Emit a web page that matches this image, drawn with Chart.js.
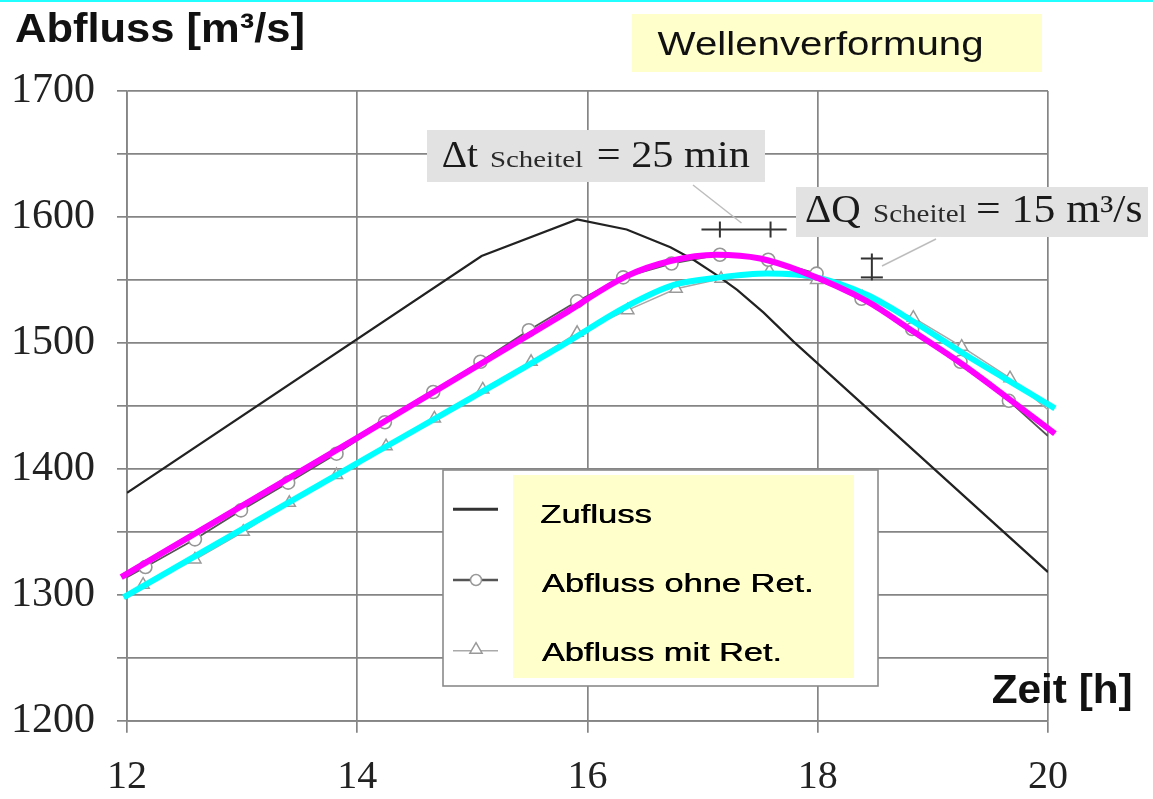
<!DOCTYPE html>
<html><head><meta charset="utf-8">
<script src="https://cdn.jsdelivr.net/npm/chart.js@4"></script>
<style>html,body{margin:0;padding:0;background:#fff;} #wrap{width:1153px;height:799px;position:relative;}</style>
</head><body><div id="wrap"><canvas id="c" width="1153" height="799"></canvas></div>
<script>
// ---- data (time in h, discharge in m³/s) ----
const zuflussT = [12.0, 15.08, 15.91, 16.34, 16.72, 16.92, 17.12, 17.30, 17.53, 17.79, 20.0];
const zuflussQ = [1381, 1569, 1598, 1590, 1576, 1566, 1554, 1542, 1524, 1501, 1318];

const ohneT = [12.0, 12.16, 12.59, 12.99, 13.40, 13.82, 14.24, 14.66, 15.07, 15.49, 15.91, 16.31, 16.73, 17.15, 17.57, 17.99, 18.38, 18.82, 19.24, 19.66, 20.0];
const ohneQ = [1314, 1322, 1344, 1367, 1389, 1412, 1437, 1461, 1485, 1510, 1533, 1552, 1563, 1570, 1566, 1555, 1535, 1511, 1485, 1454, 1426];

const mitT = [12.0, 12.14, 12.59, 13.01, 13.41, 13.82, 14.25, 14.67, 15.09, 15.51, 15.91, 16.35, 16.77, 17.16, 17.58, 17.99, 18.39, 18.83, 19.25, 19.67, 20.0];
const mitQ = [1301, 1308, 1328, 1350, 1373, 1395, 1418, 1440, 1463, 1485, 1508, 1526, 1543, 1551, 1557, 1550, 1536, 1520, 1497, 1472, 1447];

// hand-drawn highlight curves
const magentaT = [11.95, 13.97, 15.76, 16.34, 16.72, 17.12, 17.50, 17.85, 18.43, 18.83, 19.24, 19.64, 20.06];
const magentaQ = [1314, 1423, 1521, 1553, 1565, 1570, 1567, 1557, 1533, 1509, 1484, 1457, 1428];
const cyanT = [11.97, 13.97, 15.76, 16.34, 16.75, 17.15, 17.56, 17.99, 18.43, 18.83, 19.24, 19.64, 20.06];
const cyanQ = [1298, 1403, 1497, 1529, 1546, 1552, 1555, 1552, 1538, 1517, 1493, 1471, 1448];

// peak-shift markers
const dtMarkT = [17.15, 17.59];   // Δt ticks (peak times)
const dtBar = [16.99, 17.73, 1590]; // bar from t, to t, at Q
const dqMarkQ = [1567, 1552];     // ΔQ ticks (peak flows)
const dqBar = [18.47];            // at t

const xTicks = [12, 14, 16, 18, 20];
const yTicks = [1200, 1300, 1400, 1500, 1600, 1700];
const legendLabels = ['Zufluss', 'Abfluss ohne Ret.', 'Abfluss mit Ret.'];

const mk = (T, Q) => T.map((t, i) => ({x: t, y: Q[i]}));
const edge0 = T => T.map((t, i) => (i === 0 || i === T.length - 1) ? 0 : 1);

function txt(ctx, s, x, y, font, color, w) {
  ctx.save();
  ctx.font = font; ctx.fillStyle = color; ctx.textBaseline = 'alphabetic'; ctx.textAlign = 'left';
  const m = ctx.measureText(s).width; const k = w ? w / m : 1;
  ctx.translate(x, y); ctx.scale(k, 1); ctx.fillText(s, 0, 0);
  ctx.restore();
}
function tri(ctx, x, y, r) {
  ctx.beginPath();
  ctx.moveTo(x, y - r); ctx.lineTo(x + r * 0.87, y + r * 0.5); ctx.lineTo(x - r * 0.87, y + r * 0.5); ctx.closePath();
}

const decor = {
  id: 'decor',
  afterDraw(chart) {
    const ctx = chart.ctx, xs = chart.scales.x, ys = chart.scales.y;
    ctx.save();
    // top cyan rule
    ctx.fillStyle = '#22ffff'; ctx.fillRect(0, 0, 1153, 2);
    // title box
    ctx.fillStyle = '#ffffcc'; ctx.fillRect(632, 14, 410, 58);
    txt(ctx, 'Wellenverformung', 657.6, 55, '33px "Liberation Sans"', '#111', 326);
    txt(ctx, 'Abfluss [m³/s]', 15, 41.7, 'bold 40px "Liberation Sans"', '#111', 290);
    txt(ctx, 'Zeit [h]', 991.7, 703, 'bold 40px "Liberation Sans"', '#111', 141);

    // leader lines
    ctx.strokeStyle = '#bdbdbd'; ctx.lineWidth = 1.5;
    ctx.beginPath(); ctx.moveTo(693, 185); ctx.lineTo(741.5, 223); ctx.stroke();
    ctx.beginPath(); ctx.moveTo(936, 239); ctx.lineTo(882, 266); ctx.stroke();

    // Δt box
    ctx.fillStyle = '#e2e2e2'; ctx.fillRect(427, 130, 338, 52);
    txt(ctx, 'Δt', 441.7, 166.7, '37px "Liberation Serif"', '#1a1a1a', 36.3);
    txt(ctx, 'Scheitel', 490, 166.7, '24px "Liberation Serif"', '#2a2a2a', 93);
    txt(ctx, '= 25 min', 596.7, 166.7, '37px "Liberation Serif"', '#1a1a1a', 153.3);
    // ΔQ box
    ctx.fillStyle = '#e2e2e2'; ctx.fillRect(796, 187, 352, 50);
    txt(ctx, 'ΔQ', 805, 221.7, '39px "Liberation Serif"', '#1a1a1a', 55.7);
    txt(ctx, 'Scheitel', 873, 221.7, '25px "Liberation Serif"', '#2a2a2a', 93.6);
    txt(ctx, '= 15 m³/s', 976, 221.7, '39px "Liberation Serif"', '#1a1a1a', 166.4);

    // Δt marker
    ctx.strokeStyle = '#333'; ctx.lineWidth = 2;
    const yb = ys.getPixelForValue(dtBar[2]);
    ctx.beginPath(); ctx.moveTo(xs.getPixelForValue(dtBar[0]), yb); ctx.lineTo(xs.getPixelForValue(dtBar[1]), yb); ctx.stroke();
    dtMarkT.forEach(t => { const x = xs.getPixelForValue(t); ctx.beginPath(); ctx.moveTo(x, yb - 8); ctx.lineTo(x, yb + 8); ctx.stroke(); });
    // ΔQ marker
    const xb = xs.getPixelForValue(dqBar[0]);
    const ya = ys.getPixelForValue(dqMarkQ[0]), yc = ys.getPixelForValue(dqMarkQ[1]);
    ctx.beginPath(); ctx.moveTo(xb, ya - 5); ctx.lineTo(xb, yc + 3); ctx.stroke();
    dqMarkQ.forEach(q => { const y = ys.getPixelForValue(q); ctx.beginPath(); ctx.moveTo(xb - 11, y); ctx.lineTo(xb + 11, y); ctx.stroke(); });

    // legend
    ctx.fillStyle = '#fff'; ctx.fillRect(443, 470, 435, 216);
    ctx.strokeStyle = '#8a8a8a'; ctx.lineWidth = 1.6; ctx.strokeRect(443, 470, 435, 216);
    ctx.fillStyle = '#ffffcc'; ctx.fillRect(513, 475, 341, 203);
    const rows = [509.3, 580, 650.7], base = [523.3, 591.7, 661], widths = [111.7, 271.7, 240];
    // Zufluss sample
    ctx.strokeStyle = '#333'; ctx.lineWidth = 3;
    ctx.beginPath(); ctx.moveTo(453, rows[0]); ctx.lineTo(498, rows[0]); ctx.stroke();
    // ohne sample
    ctx.strokeStyle = '#555'; ctx.lineWidth = 2.5;
    ctx.beginPath(); ctx.moveTo(453, rows[1]); ctx.lineTo(498, rows[1]); ctx.stroke();
    ctx.fillStyle = '#fff'; ctx.strokeStyle = '#999'; ctx.lineWidth = 1.5;
    ctx.beginPath(); ctx.arc(476, rows[1], 5.5, 0, Math.PI * 2); ctx.fill(); ctx.stroke();
    // mit sample
    ctx.strokeStyle = '#aaa'; ctx.lineWidth = 1.5;
    ctx.beginPath(); ctx.moveTo(453, rows[2]); ctx.lineTo(498, rows[2]); ctx.stroke();
    ctx.fillStyle = '#fff'; ctx.strokeStyle = '#999';
    tri(ctx, 476, rows[2] - 1, 7); ctx.fill(); ctx.stroke();
    legendLabels.forEach((l, i) => {
      txt(ctx, l, 540 + (i ? 1.7 : 0), base[i], '26px "Liberation Sans"', '#000', widths[i]);
      txt(ctx, l, 540.6 + (i ? 1.7 : 0), base[i], '26px "Liberation Sans"', '#000', widths[i]);
    });
    ctx.restore();
  }
};

new Chart(document.getElementById('c'), {
  type: 'scatter',
  data: {datasets: [
    {label: 'Abfluss mit Ret.', data: mk(mitT, mitQ), showLine: true, borderColor: '#a8a8a8', borderWidth: 1.5,
     pointStyle: 'triangle', pointRadius: edge0(mitT).map(v => v * 7), pointBorderColor: '#9a9a9a',
     pointBackgroundColor: '#fff', pointBorderWidth: 1.5, tension: 0, order: 4},
    {label: 'Abfluss ohne Ret.', data: mk(ohneT, ohneQ), showLine: true, borderColor: '#555', borderWidth: 1.8,
     pointStyle: 'circle', pointRadius: edge0(ohneT).map(v => v * 6.5), pointBorderColor: '#969696',
     pointBackgroundColor: '#fff', pointBorderWidth: 1.6, tension: 0, order: 3},
    {label: 'Zufluss', data: mk(zuflussT, zuflussQ), showLine: true, borderColor: '#222', borderWidth: 2.2,
     pointRadius: 0, tension: 0, order: 2},
    {label: 'mit Ret. (Markierung)', data: mk(cyanT, cyanQ), showLine: true, borderColor: '#00ffff', borderWidth: 6,
     pointRadius: 0, cubicInterpolationMode: 'monotone', clip: false, order: 1},
    {label: 'ohne Ret. (Markierung)', data: mk(magentaT, magentaQ), showLine: true, borderColor: '#ff00ff', borderWidth: 6,
     pointRadius: 0, cubicInterpolationMode: 'monotone', clip: false, order: 0}
  ]},
  options: {
    responsive: false, animation: false, devicePixelRatio: 1,
    layout: {padding: {top: 91, right: 105, left: 0, bottom: 0}},
    plugins: {legend: {display: false}, tooltip: {enabled: false}},
    scales: {
      x: {type: 'linear', min: xTicks[0], max: xTicks[xTicks.length - 1],
        afterFit(s) { s.height = 78.3; },
        afterBuildTicks(s) { s.ticks = xTicks.map(v => ({value: v})); },
        ticks: {font: {family: 'Liberation Serif', size: 40}, color: '#222', padding: 21, maxRotation: 0, autoSkip: false},
        grid: {color: '#858585', lineWidth: 1.7, tickLength: 12},
        border: {color: '#858585', width: 1.7}},
      y: {type: 'linear', min: yTicks[0], max: yTicks[yTicks.length - 1],
        afterFit(s) { s.width = 127; },
        ticks: {stepSize: 50, autoSkip: false, callback: v => yTicks.includes(v) ? String(v) : '',
          font: {family: 'Liberation Serif', size: 42}, color: '#222', padding: 22},
        grid: {color: '#858585', lineWidth: 1.7, tickLength: 10},
        border: {color: '#858585', width: 1.7}}
    }
  },
  plugins: [decor]
});
</script></body></html>
